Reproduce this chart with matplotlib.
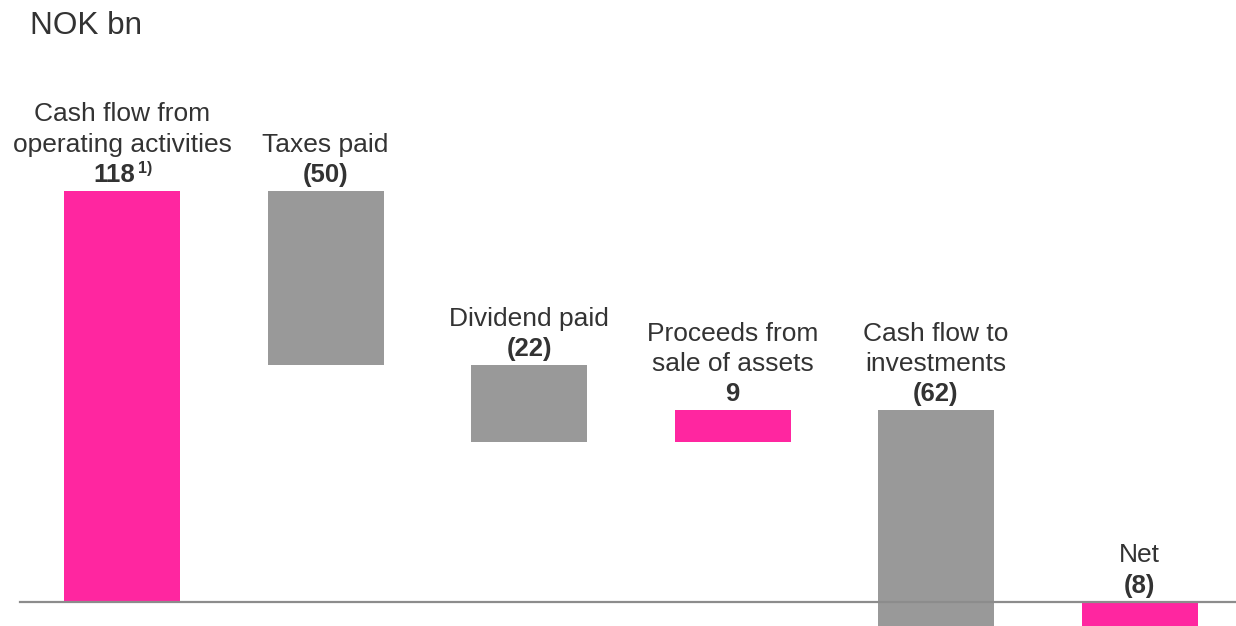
import numpy as np
import matplotlib.pyplot as plt

plt.rcParams['font.family'] = ['Liberation Sans', 'DejaVu Sans']

# waterfall data, NOK bn
names = ['Cash flow from\noperating activities', 'Taxes paid', 'Dividend paid',
         'Proceeds from\nsale of assets', 'Cash flow to\ninvestments', 'Net']
values = [118, -50, -22, 9, -62]
net_value = -8
value_labels = ['118', '(50)', '(22)', '9', '(62)', '(8)']
footnote = '1)'

pink = '#FF26A0'
grey = '#999999'
txt = '#333333'

W, H = 1236, 626
fig = plt.figure(figsize=(W / 100, H / 100), dpi=100)
ax = fig.add_axes([0, 0, 1, 1])

# pixel layout of the reference
x0_px, step_px = 122, 203.5
zero_px, unit_px = 602, 3.483
ax.set_xlim((0 - x0_px) / step_px, (W - x0_px) / step_px)
ax.set_ylim(-(H - zero_px) / unit_px, zero_px / unit_px)
ax.axis('off')

starts, ends = [], []
run = 0
for i, v in enumerate(values):
    starts.append(run)
    run += v
    ends.append(run)
starts.append(0)
ends.append(net_value)

x = np.arange(len(names))
bottoms = [min(s, e) for s, e in zip(starts, ends)]
heights = [abs(e - s) for s, e in zip(starts, ends)]
colors = [pink if (e - s) > 0 else grey for s, e in zip(starts, ends)]
colors[-1] = pink
ax.bar(x, heights, bottom=bottoms, width=116 / step_px, color=colors, zorder=2)

ax.axhline(0, xmin=20 / W, xmax=1, color='#8C8C8C', lw=1.6, zorder=3)

pt = 0.72  # points per pixel at dpi 100
for i in range(len(names)):
    top = max(starts[i], ends[i], 0)
    dx = -8 if i == 0 else 0
    ax.annotate(value_labels[i], (x[i], top), xytext=(dx * pt, 9 * pt), textcoords='offset points',
                ha='center', va='baseline', fontsize=18.5, fontweight='bold', color=txt)
    ax.annotate(names[i], (x[i], top), xytext=(0, 39.5 * pt), textcoords='offset points',
                ha='center', va='baseline', fontsize=19, color=txt, linespacing=1.33)

# footnote marker next to the first value
ax.annotate(footnote, (x[0], starts[0] + values[0]), xytext=(16 * pt, 18 * pt), textcoords='offset points',
            ha='left', va='baseline', fontsize=11.5, fontweight='bold', color=txt)

fig.text(30 / W, 1 - 34 / H, 'NOK bn', fontsize=22.7, color=txt, ha='left', va='baseline')

fig.savefig('out.png', dpi=100)
